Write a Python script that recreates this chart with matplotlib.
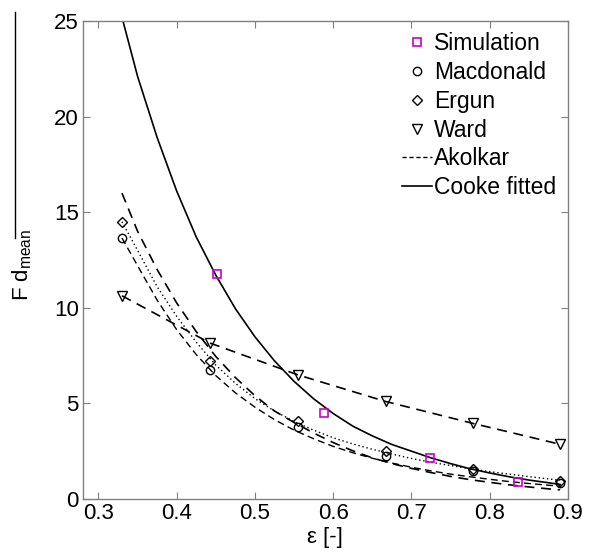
import numpy as np
import matplotlib
matplotlib.use('Agg')
from matplotlib import pyplot as plt
from matplotlib.lines import Line2D

plt.rcParams['font.family'] = ['Liberation Sans', 'DejaVu Sans']
plt.rcParams['mathtext.fontset'] = 'custom'
plt.rcParams['mathtext.rm'] = 'Liberation Sans'

# porosity positions of the correlation markers
eps_pts = [0.33, 0.443, 0.555, 0.667, 0.778, 0.89]
macdonald_pts = [13.65, 6.75, 3.79, 2.25, 1.45, 0.82]
ergun_pts = [14.5, 7.24, 4.10, 2.53, 1.55, 0.95]
ward_pts = [10.63, 8.15, 6.49, 5.10, 3.96, 2.86]

# simulation results
eps_sim = [0.451, 0.588, 0.724, 0.836]
sim = [11.76, 4.52, 2.16, 0.87]

# fitted curves
eps_fit = [0.33, 0.35, 0.375, 0.40, 0.425, 0.45, 0.475, 0.50, 0.525, 0.55, 0.575, 0.60,
           0.625, 0.65, 0.675, 0.70, 0.725, 0.75, 0.775, 0.80, 0.825, 0.85, 0.875, 0.89]
cooke = [25.2, 22.1, 18.9, 16.1, 13.7, 11.7, 9.95, 8.48, 7.22, 6.15, 5.24, 4.47,
         3.81, 3.30, 2.85, 2.50, 2.15, 1.85, 1.58, 1.36, 1.16, 0.99, 0.85, 0.76]
akolkar = [16.0, 14.0, 12.0, 10.25, 8.75, 7.45, 6.35, 5.40, 4.60, 4.00, 3.45, 2.95,
           2.52, 2.15, 1.85, 1.60, 1.38, 1.18, 1.01, 0.87, 0.74, 0.63, 0.53, 0.48]
macdonald_fit = [13.65, 12.2, 10.4, 8.85, 7.55, 6.45, 5.55, 4.80, 4.15, 3.60, 3.15, 2.75,
                 2.42, 2.13, 1.88, 1.66, 1.47, 1.30, 1.16, 1.03, 0.91, 0.81, 0.72, 0.67]
ergun_fit = [14.5, 13.0, 11.1, 9.55, 8.2, 7.0, 6.05, 5.25, 4.6, 4.05, 3.6, 3.2,
             2.88, 2.6, 2.35, 2.12, 1.92, 1.75, 1.58, 1.43, 1.30, 1.17, 1.05, 0.98]

fig = plt.figure(figsize=(5.96, 5.54), dpi=100)
ax = fig.add_axes([0.139, 0.0993, 0.814, 0.8627])

# curves
ax.plot(eps_fit, macdonald_fit, color='k', lw=1, ls=(0, (5, 3)))
ax.plot(eps_fit, ergun_fit, color='k', lw=1, ls=(0, (1, 2)))
ax.plot(eps_pts, ward_pts, color='k', lw=1.2, ls=(0, (6, 4)))
ax.plot(eps_fit, akolkar, color='k', lw=1.2, ls=(0, (6, 4)))
ax.plot(eps_fit, cooke, color='k', lw=1.2, ls='-')

# markers
ax.plot(eps_sim, sim, ls='none', marker='s', ms=6, mfc='none', mec='#cc00cc', mew=1.2)
ax.plot(eps_pts, macdonald_pts, ls='none', marker='o', ms=6, mfc='none', mec='k', mew=1)
ax.plot(eps_pts, ergun_pts, ls='none', marker='D', ms=5, mfc='none', mec='k', mew=1)
ax.plot(eps_pts, ward_pts, ls='none', marker='v', ms=7, mfc='none', mec='k', mew=1)

ax.set_xlim(0.28, 0.9)
ax.set_ylim(0, 25)
ax.set_xticks([0.3, 0.4, 0.5, 0.6, 0.7, 0.8, 0.9])
ax.set_xticklabels(['0.3', '0.4', '0.5', '0.6', '0.7', '0.8', '0.9'])
ax.set_yticks([0, 5, 10, 15, 20, 25])
ax.tick_params(direction='in', length=5, width=0.8, color='#808080',
               labelsize=16, top=True, right=True, pad=3)
for s in ax.spines.values():
    s.set_color('#808080')
    s.set_linewidth(1)

ax.set_xlabel('ε [-]', fontsize=16, labelpad=2)
ax.set_ylabel(r'F d$_\mathregular{mean}$', fontsize=16)
ax.yaxis.set_label_coords(-0.1, 0.49)

# stray bar left of the y label
fig.add_artist(Line2D([15 / 596, 15 / 596], [1 - 12 / 554, 1 - 238 / 554],
                      color='k', lw=1, transform=fig.transFigure))

handles = [
    Line2D([], [], ls='none', marker='s', ms=6, mfc='none', mec='#cc00cc', mew=1.2),
    Line2D([], [], ls='none', marker='o', ms=6, mfc='none', mec='k', mew=1),
    Line2D([], [], ls='none', marker='D', ms=5, mfc='none', mec='k', mew=1),
    Line2D([], [], ls='none', marker='v', ms=7, mfc='none', mec='k', mew=1),
    Line2D([], [], color='k', lw=1, ls=(0, (3, 2))),
    Line2D([], [], color='k', lw=1.2, ls='-'),
]
labels = ['Simulation', 'Macdonald', 'Ergun', 'Ward', 'Akolkar', 'Cooke fitted']
ax.legend(handles, labels, loc='upper right', frameon=False, fontsize=16.5,
          handlelength=1.3, handletextpad=0.1, labelspacing=0.26,
          borderaxespad=0.0, bbox_to_anchor=(0.995, 0.997))

plt.savefig('out.png', dpi=100)
